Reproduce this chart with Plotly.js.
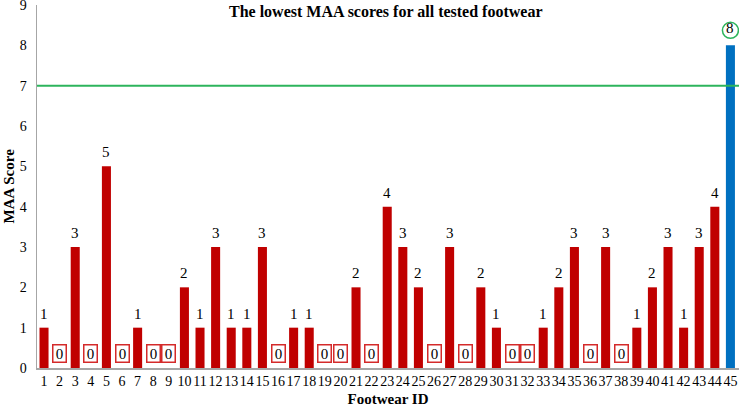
<!DOCTYPE html>
<html>
<head>
<meta charset="utf-8">
<script src="https://cdn.plot.ly/plotly-3.0.1.min.js"></script>
<style>
  body { margin: 0; padding: 0; background: #fff; }
  #plot { width: 739px; height: 410px; }
</style>
</head>
<body>
<div id="plot"></div>
<script>
// Footwear IDs and their lowest MAA scores
var footwearIds = [];
for (var i = 1; i <= 45; i++) footwearIds.push(i);
var maaScores = [1, 0, 3, 0, 5, 0, 1, 0, 0, 2,
                 1, 3, 1, 1, 3, 0, 1, 1, 0, 0,
                 2, 0, 4, 3, 2, 0, 3, 0, 2, 1,
                 0, 0, 1, 2, 3, 0, 3, 0, 1, 2,
                 3, 1, 3, 4, 8];
var thresholdScore = 7;
var yTicks = [0, 1, 2, 3, 4, 5, 6, 7, 8, 9];

var serif = "Liberation Serif";
var red = "#c00000";
var blue = "#0070c0";
var green = "#2db45c";

// last footwear passes the threshold, drawn in blue
var colors = maaScores.map(function (v, i) {
  return i === maaScores.length - 1 ? blue : red;
});

var trace1 = {
  x: footwearIds,
  y: maaScores,
  type: "bar",
  width: 0.58,
  marker: { color: colors },
  hoverinfo: "none"
};

// labels: numbers above bars, boxed zeros for empty ones
var annotations = [];
maaScores.forEach(function (v, i) {
  var id = footwearIds[i];
  if (v === 0) {
    annotations.push({
      x: id, y: 0.37, text: "0", showarrow: false,
      font: { family: serif, size: 15, color: "#000" },
      bordercolor: "#d42a2a", borderwidth: 1.5, borderpad: 0,
      width: 12, bgcolor: "#fff"
    });
  } else {
    annotations.push({
      x: id, y: v, yanchor: "bottom",
      yshift: i === maaScores.length - 1 ? 7 : 4, text: String(v),
      showarrow: false, font: { family: serif, size: 15, color: "#000" }
    });
  }
});

// y axis title placed by hand so it clears the tick labels
annotations.push({
  xref: "paper", yref: "paper", x: 0, y: 0.5, xshift: -29,
  xanchor: "center", yanchor: "middle",
  textangle: -90, showarrow: false,
  text: "<b>MAA Score</b>", font: { family: serif, size: 15, color: "#000" }
});

var lastId = footwearIds[footwearIds.length - 1];
var lastScore = maaScores[maaScores.length - 1];

var layout = {
  width: 739,
  height: 410,
  margin: { l: 37, r: 0, t: 5, b: 42 },
  paper_bgcolor: "#fff",
  plot_bgcolor: "#fff",
  showlegend: false,
  font: { family: serif, size: 14, color: "#000" },
  title: {
    text: "<b>The lowest MAA scores for all tested footwear</b>",
    font: { family: serif, size: 16, color: "#000" },
    x: 0.522, xanchor: "center",
    y: 0.972, yref: "container", yanchor: "middle"
  },
  xaxis: {
    range: [0.55, 45.55],
    tickmode: "array",
    tickvals: footwearIds,
    ticktext: footwearIds.map(String),
    showgrid: false,
    zeroline: false,
    showline: true,
    linecolor: "#a6a6a6",
    linewidth: 1.5,
    ticks: "",
    tickangle: 0,
    tickfont: { family: serif, size: 14 },
    title: { text: "<b>Footwear ID</b>", font: { family: serif, size: 15 }, standoff: 5 }
  },
  yaxis: {
    range: [0, 9],
    tickmode: "array",
    tickvals: yTicks,
    showgrid: false,
    zeroline: false,
    showline: true,
    linecolor: "#a6a6a6",
    linewidth: 1.5,
    ticks: "",
    ticklabelstandoff: 6,
    ticklabeloverflow: "allow",
    tickfont: { family: serif, size: 14 }
  },
  shapes: [
    {
      type: "line", xref: "paper", x0: 0, x1: 1,
      yref: "y", y0: thresholdScore, y1: thresholdScore,
      line: { color: green, width: 2 }
    },
    {
      type: "circle", xref: "x", yref: "y",
      xsizemode: "pixel", ysizemode: "pixel",
      xanchor: lastId, yanchor: lastScore,
      x0: -8, x1: 8, y0: 7, y1: 23,
      line: { color: green, width: 1.5 }
    }
  ],
  annotations: annotations
};

Plotly.newPlot("plot", [trace1], layout, { displayModeBar: false, staticPlot: true });
</script>
</body>
</html>
